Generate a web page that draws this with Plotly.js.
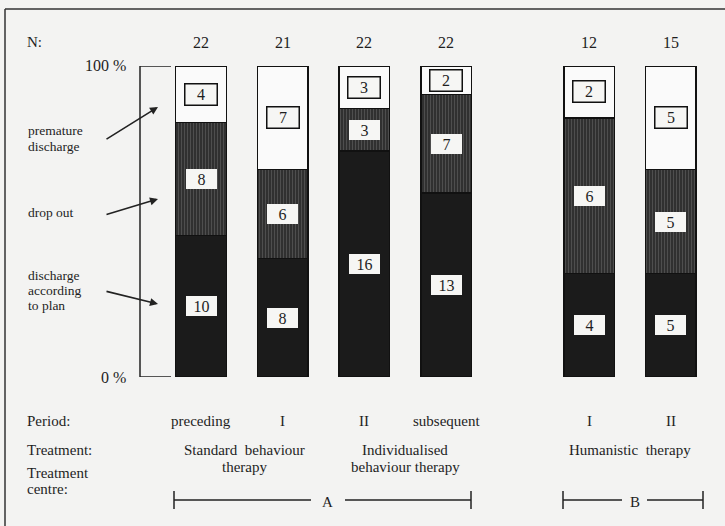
<!DOCTYPE html>
<html><head><meta charset="utf-8">
<script src="https://cdn.plot.ly/plotly-3.0.1.min.js"></script>
<style>html,body{margin:0;padding:0;background:#f3f3f2}</style>
</head><body><div id="chart" style="width:725px;height:526px"></div>
<script>
// ---- data ----
const nLabels = ['22','21','22','22','12','15'];
const periods = ['preceding','I','II','subsequent','I','II'];
const planCounts = [10,8,16,13,4,5];
const dropCounts = [8,6,3,7,6,5];
const prematureCounts = [4,7,3,2,2,5];
const seriesNames = ['discharge according to plan','drop out','premature discharge'];
const treatmentLines = [['Standard  behaviour','therapy'],['Individualised','behaviour therapy'],['Humanistic  therapy']];
const centres = ['A','B'];
const rowLabels = ['N:','Period:','Treatment:','Treatment','centre:'];
const sideLabels = [['premature','discharge'],['drop out'],['discharge','according','to plan']];

// ---- layout helpers ----
const W = 725, H = 526;
const xPos = [0,1,2,3,4.75,5.75];
const px = v => v / W;
const py = v => 1 - v / H;
const serif = 'Liberation Serif, Times New Roman, serif';
const ink = '#1e1e1e';

const lineStyle = {color:'#222', width:1.5};
const traces = [
  {y: planCounts, marker:{color:'#1b1b1b', line:{color:'#111', width:1.5}}},
  {y: dropCounts, marker:{color:'#333', line:{color:'#111', width:1.5},
     pattern:{shape:'|', bgcolor:'#2c2c2c', fgcolor:'#4e4e4e', size:3, solidity:0.4, fillmode:'replace'}}},
  {y: prematureCounts, marker:{color:'#fafafa', line:{color:'#111', width:1.5}}}
].map((t,i)=>Object.assign(t,{type:'bar', x:xPos, width:0.62, name:seriesNames[i], hoverinfo:'none'}));

const annotations = [];
const shapes = [];
function txt(o){ return Object.assign({showarrow:false, xanchor:'center', yanchor:'middle'}, o); }
// N values and periods
xPos.forEach((x,i)=>{
  annotations.push(txt({x:x, xref:'x', y:py(42), yref:'paper', text:nLabels[i], font:{family:serif, size:16, color:ink}}));
  annotations.push(txt({x:x, xref:'x', y:py(421), yref:'paper', text:periods[i], font:{family:serif, size:15, color:ink}}));
});
// boxed counts inside bars
const series = [planCounts, dropCounts, prematureCounts];
xPos.forEach((x,i)=>{
  const tot = planCounts[i]+dropCounts[i]+prematureCounts[i];
  let cum = 0;
  series.forEach((s,k)=>{
    const pct = s[i]/tot*100;
    let mid = cum + pct/2;
    if (k===2 && pct < 12) mid = Math.min(mid, 100 - 3.6);
    cum += pct;
    annotations.push(txt({x:x, xref:'x', y:mid, yref:'y', text:String(s[i]),
      width:27, height:16, borderpad:2, bgcolor:'#f6f6f4',
      bordercolor: k===2 ? '#111' : 'rgba(0,0,0,0)', borderwidth: k===2 ? 1.5 : 0,
      font:{family:serif, size:16, color:ink}}));
  });
});
// row labels at left
const rowY = [42, 421, 450, 473, 489];
rowLabels.forEach((t,i)=>annotations.push(txt({x:px(25), xref:'paper', y:py(rowY[i]), yref:'paper', xanchor:'left', text:t, font:{family:serif, size:15, color:ink}})));
// side labels
const sideY = [[131,146],[213],[275,290,305]];
sideLabels.forEach((lines,i)=>lines.forEach((t,j)=>annotations.push(txt({x:px(26), xref:'paper', y:py(sideY[i][j]), yref:'paper', xanchor:'left', text:t, font:{family:serif, size:13.5, color:ink}}))));
// arrows
const arrows = [[105,140,158,107],[105,215,158,199],[105,291,158,304]];
arrows.forEach(a=>annotations.push({x:px(a[2]), xref:'paper', y:py(a[3]), yref:'paper', ax:a[0]-a[2], ay:a[1]-a[3], text:'', showarrow:true, arrowhead:2, arrowsize:1, arrowwidth:1.6, arrowcolor:'#222'}));
// percentage labels
annotations.push(txt({x:px(128), xref:'paper', y:100, yref:'y', xanchor:'right', text:'100 %', font:{family:serif, size:16, color:ink}}));
annotations.push(txt({x:px(128), xref:'paper', y:0, yref:'y', xanchor:'right', text:'0 %', font:{family:serif, size:16, color:ink}}));
// percentage bracket
shapes.push({type:'line', xref:'paper', yref:'y', x0:px(140), x1:px(140), y0:0, y1:100, line:lineStyle});
shapes.push({type:'line', xref:'paper', yref:'y', x0:px(140), x1:px(171), y0:100, y1:100, line:lineStyle});
shapes.push({type:'line', xref:'paper', yref:'y', x0:px(140), x1:px(171), y0:0, y1:0, line:lineStyle});
// treatments
const treatX = [244, 405, 630];
treatmentLines.forEach((lines,i)=>lines.forEach((t,j)=>annotations.push(txt({x:px(treatX[i]), xref:'paper', y:py(450+17*j), yref:'paper', text:t, font:{family:serif, size:15, color:ink}}))));
// centres
const centreSpans = [[174,311,327,345,471],[563,622,635,647,703]];
centreSpans.forEach((s,i)=>{
  const yl = py(500);
  shapes.push({type:'line', xref:'paper', yref:'paper', x0:px(s[0]), x1:px(s[1]), y0:yl, y1:yl, line:lineStyle});
  shapes.push({type:'line', xref:'paper', yref:'paper', x0:px(s[3]), x1:px(s[4]), y0:yl, y1:yl, line:lineStyle});
  shapes.push({type:'line', xref:'paper', yref:'paper', x0:px(s[0]), x1:px(s[0]), y0:py(491), y1:py(509), line:lineStyle});
  shapes.push({type:'line', xref:'paper', yref:'paper', x0:px(s[4]), x1:px(s[4]), y0:py(491), y1:py(509), line:lineStyle});
  annotations.push(txt({x:px(s[2]), xref:'paper', y:py(502), yref:'paper', text:centres[i], font:{family:serif, size:15, color:ink}}));
});
// frame
shapes.push({type:'line', xref:'paper', yref:'paper', x0:px(5), x1:1, y0:py(9), y1:py(9), line:{color:'#333', width:1.5}});
shapes.push({type:'line', xref:'paper', yref:'paper', x0:px(5), x1:px(5), y0:py(9), y1:0, line:{color:'#333', width:1.5}});

const layout = {
  width:W, height:H, margin:{l:0,r:0,t:0,b:0},
  paper_bgcolor:'#f3f3f2', plot_bgcolor:'rgba(0,0,0,0)',
  barmode:'stack', barnorm:'percent', showlegend:false,
  xaxis:{range:[-201/81.7, (W-201)/81.7], visible:false, fixedrange:true},
  yaxis:{range:[0,100], domain:[1-377/H, 1-66/H], visible:false, fixedrange:true},
  annotations:annotations, shapes:shapes
};
Plotly.newPlot('chart', traces, layout, {staticPlot:true, displayModeBar:false});
</script></body></html>
